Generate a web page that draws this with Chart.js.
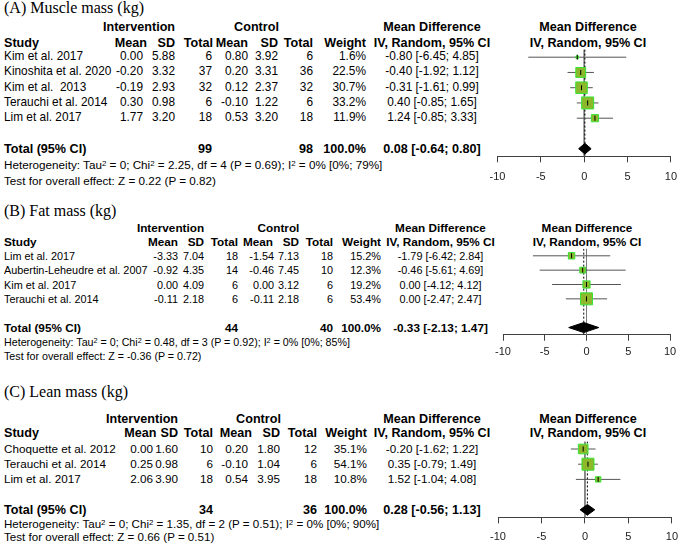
<!DOCTYPE html>
<html>
<head>
<meta charset="utf-8">
<script src="https://cdn.jsdelivr.net/npm/chart.js@4.4.0/dist/chart.umd.min.js"></script>
<style>
html, body { margin: 0; padding: 0; background: #fff; }
body { width: 685px; height: 545px; overflow: hidden; position: relative; font-family: "Liberation Sans", Arial, sans-serif; color: #000; }
.t { position: absolute; white-space: pre; font-size: 12px; line-height: 1; }
.b { font-weight: bold; }
.ttl { font-family: "Liberation Serif", "Times New Roman", serif; }
sup { font-size: 0.68em; line-height: 0; vertical-align: 0.38em; }
.plot { position: absolute; }
</style>
</head>
<body>
<script>
// (A) Muscle mass
const muscleStudies = ['Kim et al. 2017', 'Kinoshita et al. 2020', 'Kim et al.  2013', 'Terauchi et al. 2014', 'Lim et al. 2017'];
const muscleIntMean = [0.00, -0.20, -0.19, 0.30, 1.77];
const muscleIntSd = [5.88, 3.32, 2.93, 0.98, 3.20];
const muscleIntN = [6, 37, 32, 6, 18];
const muscleCtlMean = [0.80, 0.20, 0.12, -0.10, 0.53];
const muscleCtlSd = [3.92, 3.31, 2.37, 1.22, 3.20];
const muscleCtlN = [6, 36, 32, 6, 18];
const muscleWeight = [1.6, 22.5, 30.7, 33.2, 11.9];
const muscleMD = [-0.80, -0.40, -0.31, 0.40, 1.24];
const muscleLower = [-6.45, -1.92, -1.61, -0.85, -0.85];
const muscleUpper = [4.85, 1.12, 0.99, 1.65, 3.33];

// (B) Fat mass
const fatStudies = ['Lim et al. 2017', 'Aubertin-Leheudre et al. 2007', 'Kim et al. 2017', 'Terauchi et al. 2014'];
const fatIntMean = [-3.33, -0.92, 0.00, -0.11];
const fatIntSd = [7.04, 4.35, 4.09, 2.18];
const fatIntN = [18, 14, 6, 6];
const fatCtlMean = [-1.54, -0.46, 0.00, -0.11];
const fatCtlSd = [7.13, 7.45, 3.12, 2.18];
const fatCtlN = [18, 10, 6, 6];
const fatWeight = [15.2, 12.3, 19.2, 53.4];
const fatMD = [-1.79, -0.46, 0.00, 0.00];
const fatLower = [-6.42, -5.61, -4.12, -2.47];
const fatUpper = [2.84, 4.69, 4.12, 2.47];

// (C) Lean mass
const leanStudies = ['Choquette et al. 2012', 'Terauchi et al. 2014', 'Lim et al. 2017'];
const leanIntMean = [0.00, 0.25, 2.06];
const leanIntSd = [1.60, 0.98, 3.90];
const leanIntN = [10, 6, 18];
const leanCtlMean = [0.20, -0.10, 0.54];
const leanCtlSd = [1.80, 1.04, 3.95];
const leanCtlN = [12, 6, 18];
const leanWeight = [35.1, 54.1, 10.8];
const leanMD = [-0.20, 0.35, 1.52];
const leanLower = [-1.62, -0.79, -1.04];
const leanUpper = [1.22, 1.49, 4.08];

// pooled results, one entry per panel (A, B, C)
const panelTitles = ['(A) Muscle mass (kg)', '(B) Fat mass (kg)', '(C) Lean mass (kg)'];
const pooledIntN = [99, 44, 34];
const pooledCtlN = [98, 40, 36];
const pooledMD = [0.08, -0.33, 0.28];
const pooledLower = [-0.64, -2.13, -0.56];
const pooledUpper = [0.80, 1.47, 1.13];
const hetTau2 = [0, 0, 0];
const hetChi2 = [2.25, 0.48, 1.35];
const hetDf = [4, 3, 2];
const hetP = [0.69, 0.92, 0.51];
const hetI2 = [0, 0, 0];
const hetI2Upper = [79, 85, 90];
const testZ = [0.22, -0.36, 0.66];
const testP = [0.82, 0.72, 0.51];
const xTicks = [-10, -5, 0, 5, 10];

const headers = ['Mean', 'SD', 'Total', 'Mean', 'SD', 'Total', 'Weight'];

const panels = [
  { studies: muscleStudies, intMean: muscleIntMean, intSd: muscleIntSd, intN: muscleIntN,
    ctlMean: muscleCtlMean, ctlSd: muscleCtlSd, ctlN: muscleCtlN, weight: muscleWeight,
    md: muscleMD, lo: muscleLower, hi: muscleUpper,
    fs: 11.85, fsB: 12.6, fsH: 11.7,
    titleY: 8, h1: 27, h2: 43, row0: 57.2, step: 15.25, hetY: 165, testY: 181,
    colR: [143, 175, 212, 248, 278, 313, 366], headR: [147, 175, 213, 248, 278, 313, 366],
    intC: 139, ctlC: 256.5, ciC: 432, plotL: 497.5, plotR: 678, plotC: 588, tickPad: 8 },
  { studies: fatStudies, intMean: fatIntMean, intSd: fatIntSd, intN: fatIntN,
    ctlMean: fatCtlMean, ctlSd: fatCtlSd, ctlN: fatCtlN, weight: fatWeight,
    md: fatMD, lo: fatLower, hi: fatUpper,
    fs: 10.85, fsB: 11.75, fsH: 10.7,
    titleY: 211, h1: 228, h2: 242, row0: 255.8, step: 14.35, hetY: 342, testY: 356,
    colR: [178, 204, 238, 274, 299, 333, 381], headR: [178, 204, 238, 273, 299, 333, 381],
    intC: 170.5, ctlC: 278.5, ciC: 440.5, plotL: 503, plotR: 670, plotC: 587, tickPad: 5 },
  { studies: leanStudies, intMean: leanIntMean, intSd: leanIntSd, intN: leanIntN,
    ctlMean: leanCtlMean, ctlSd: leanCtlSd, ctlN: leanCtlN, weight: leanWeight,
    md: leanMD, lo: leanLower, hi: leanUpper,
    fs: 11.7, fsB: 12.6, fsH: 11.6,
    titleY: 392, h1: 419, h2: 433, row0: 449, step: 15.2, hetY: 524, testY: 537,
    colR: [153, 178, 213, 248, 280, 317, 367], headR: [156.5, 178, 213, 252, 280, 317, 367],
    intC: 142, ctlC: 258.5, ciC: 432, plotL: 498, plotR: 678, plotC: 588, tickPad: 7 }
];

function put(x, y, html, size, cls, align) {
  const d = document.createElement('div');
  d.className = 't ' + (cls || '');
  d.innerHTML = html;
  d.style.fontSize = size + 'px';
  d.style.left = x + 'px';
  d.style.top = y + 'px';
  const tx = align === 'r' ? '-100%' : align === 'c' ? '-50%' : '0';
  d.style.transform = 'translate(' + tx + ', -50%)';
  document.body.appendChild(d);
}

const ciText = (m, l, h) => m.toFixed(2) + ' [' + l.toFixed(2) + '; ' + h.toFixed(2) + ']';

function drawTable(p, k) {
  const fs = p.fs, fb = p.fsB;
  put(4, p.titleY, panelTitles[k], 16, 'ttl');
  put(p.intC, p.h1, 'Intervention', fb, 'b', 'c');
  put(p.ctlC, p.h1, 'Control', fb, 'b', 'c');
  put(p.ciC, p.h1, 'Mean Difference', fb, 'b', 'c');
  put(p.plotC, p.h1, 'Mean Difference', fb, 'b', 'c');
  put(4, p.h2, 'Study', fb, 'b');
  headers.forEach((h, j) => put(p.headR[j], p.h2, h, fb, 'b', 'r'));
  put(p.ciC, p.h2, 'IV, Random, 95% CI', fb, 'b', 'c');
  put(p.plotC, p.h2, 'IV, Random, 95% CI', fb, 'b', 'c');

  p.studies.forEach((s, i) => {
    const y = p.row0 + i * p.step;
    const vals = [p.intMean[i].toFixed(2), p.intSd[i].toFixed(2), p.intN[i],
      p.ctlMean[i].toFixed(2), p.ctlSd[i].toFixed(2), p.ctlN[i], p.weight[i].toFixed(1) + '%'];
    put(4, y, s, fs);
    vals.forEach((v, j) => put(p.colR[j], y, String(v), fs, '', 'r'));
    put(p.ciC, y, ciText(p.md[i], p.lo[i], p.hi[i]), fs, '', 'c');
  });

  const ty = p.row0 + (p.studies.length + 1) * p.step;
  put(4, ty, 'Total (95% CI)', fb, 'b');
  put(p.colR[2], ty, String(pooledIntN[k]), fb, 'b', 'r');
  put(p.colR[5], ty, String(pooledCtlN[k]), fb, 'b', 'r');
  put(p.colR[6], ty, '100.0%', fb, 'b', 'r');
  put(p.ciC, ty, ciText(pooledMD[k], pooledLower[k], pooledUpper[k]), fb, 'b', 'c');

  put(4, p.hetY, 'Heterogeneity: Tau<sup>2</sup> = ' + hetTau2[k] + '; Chi<sup>2</sup> = ' + hetChi2[k].toFixed(2) +
    ', df = ' + hetDf[k] + ' (P = ' + hetP[k].toFixed(2) + '); I<sup>2</sup> = ' + hetI2[k] + '% [0%; ' + hetI2Upper[k] + '%]', p.fsH);
  put(4, p.testY, 'Test for overall effect: Z = ' + testZ[k].toFixed(2) + ' (P = ' + testP[k].toFixed(2) + ')', p.fsH);
}

function drawForest(p, k) {
  const n = p.studies.length;
  const tIdx = n + 1;
  const areaTop = p.row0 - 0.5 * p.step;
  const wrapLeft = 480, wrapW = 205;
  const wrapTop = Math.round(areaTop - 10);
  const padTop = areaTop - wrapTop;
  const areaH = (tIdx + 1) * p.step;
  const wrapH = Math.round(padTop + areaH + 32);
  const axisH = wrapH - padTop - areaH;

  const wrap = document.createElement('div');
  wrap.className = 'plot';
  wrap.style.left = wrapLeft + 'px';
  wrap.style.top = wrapTop + 'px';
  const cv = document.createElement('canvas');
  cv.width = wrapW; cv.height = wrapH;
  cv.style.width = wrapW + 'px'; cv.style.height = wrapH + 'px';
  wrap.appendChild(cv);
  document.body.appendChild(wrap);

  const wMax = Math.max(...p.weight);
  const radii = p.weight.map(w => 12 * Math.sqrt(w / wMax) / Math.SQRT2);
  const pts = p.md.map((m, i) => ({ x: m, y: i }));
  const dh = 0.35;
  const est = pooledMD[k], lo = pooledLower[k], hi = pooledUpper[k];

  const datasets = [];
  // center ticks (topmost)
  datasets.push({ data: pts, pointStyle: 'line', pointRotation: 90, pointRadius: 2.5,
    borderColor: '#000', borderWidth: 1, showLine: false });
  // squares
  datasets.push({ data: pts, pointStyle: 'rect', pointRadius: radii,
    backgroundColor: '#8db82c', borderColor: '#36e636', borderWidth: 1, showLine: false });
  // pooled diamond
  datasets.push({ data: [{ x: lo, y: tIdx }, { x: est, y: tIdx - dh }, { x: hi, y: tIdx }, { x: est, y: tIdx + dh }, { x: lo, y: tIdx }],
    showLine: true, fill: 'shape', backgroundColor: '#000', borderColor: '#000', borderWidth: 1, pointRadius: 0, tension: 0 });
  // confidence intervals
  p.md.forEach((m, i) => {
    datasets.push({ data: [{ x: p.lo[i], y: i }, { x: p.hi[i], y: i }], showLine: true,
      borderColor: '#555', borderWidth: 1, pointRadius: 0 });
  });
  // pooled estimate (dotted) and line of no effect
  datasets.push({ data: [{ x: est, y: -0.5 }, { x: est, y: tIdx + 0.5 }], showLine: true,
    borderColor: '#000', borderWidth: 1, borderDash: [2, 2], pointRadius: 0 });
  datasets.push({ data: [{ x: 0, y: -0.5 }, { x: 0, y: tIdx + 0.5 }], showLine: true,
    borderColor: '#7a7a7a', borderWidth: 1, pointRadius: 0 });

  new Chart(cv, {
    type: 'scatter',
    data: { datasets },
    options: {
      responsive: false,
      animation: false,
      devicePixelRatio: 1,
      events: [],
      layout: { autoPadding: false, padding: { left: p.plotL - wrapLeft, right: wrapLeft + wrapW - p.plotR, top: padTop, bottom: 0 } },
      plugins: { legend: { display: false }, tooltip: { enabled: false } },
      scales: {
        x: {
          type: 'linear', min: xTicks[0], max: xTicks[xTicks.length - 1],
          afterBuildTicks: s => { s.ticks = xTicks.map(v => ({ value: v })); },
          afterFit: s => { s.height = axisH; },
          grid: { drawOnChartArea: false, drawTicks: true, tickLength: 6, color: '#404040' },
          border: { display: true, color: '#404040', width: 1 },
          ticks: { padding: p.tickPad, color: '#222', maxRotation: 0, autoSkip: false,
            font: { family: 'Liberation Sans', size: 11 } }
        },
        y: { type: 'linear', reverse: true, min: -0.5, max: tIdx + 0.5, display: false }
      }
    }
  });
}

panels.forEach((p, k) => {
  drawTable(p, k);
  drawForest(p, k);
});
</script>
</body>
</html>
